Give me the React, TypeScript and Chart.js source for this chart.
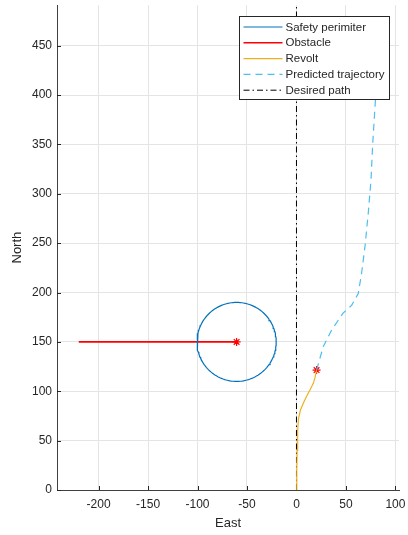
import { useEffect, useRef } from "react";
import { Chart, registerables } from "chart.js";

Chart.register(...registerables);

// Axis limits and tick positions (East / North, metres)
const xLimits = [-242, 103.6];
const yLimits = [0, 491];
const xTicks = [-200, -150, -100, -50, 0, 50, 100];
const yTicks = [0, 50, 100, 150, 200, 250, 300, 350, 400, 450];

// Safety perimeter around the obstacle
const perimeterCenter = [-60.5, 150];
const perimeterRadius = 40;

// Obstacle track
const obstacleEast = [-220, -180, -140, -100, -60.5];
const obstacleNorth = [150, 150, 150, 150, 150];

// Revolt track so far
const revoltEast = [0, 0.3, 0.7, 1.2, 2, 4, 7, 10, 14, 17, 18.8, 20.3];
const revoltNorth = [0, 20, 40, 60, 72, 81, 88, 94.5, 102, 108, 114, 121.5];

// Predicted trajectory
const predictedEast = [20.3, 27, 35.5, 47, 55.7, 62.4, 65.8, 69.2, 72.5, 75.3, 77, 80, 82, 83.5];
const predictedNorth = [121.5, 145, 162, 179, 187, 199, 219.5, 246.5, 280, 314, 350, 398.5, 440, 480];

// Desired path
const desiredEast = [0, 0];
const desiredNorth = [0, 491];

// Current positions (markers)
const markerEast = [-60.5, 20.3];
const markerNorth = [150, 121.5];

const FONT = "'Liberation Sans', Arial, Helvetica, sans-serif";
const INK = "#262626";

const toPoints = (xs: number[], ys: number[]) => xs.map((x, i) => ({ x, y: ys[i] }));

const circlePoints = (c: number[], r: number) => {
  const pts: { x: number; y: number }[] = [];
  for (let i = 0; i <= 144; i++) {
    const a = Math.PI / 2 + (i / 144) * Math.PI * 2;
    pts.push({ x: c[0] + r * Math.cos(a), y: c[1] + r * Math.sin(a) });
  }
  return pts;
};

// Inward tick marks on the left and bottom spines
const innerTicks = {
  id: "innerTicks",
  beforeDatasetsDraw(chart: any) {
    const { ctx, chartArea, scales } = chart;
    ctx.save();
    ctx.strokeStyle = INK;
    ctx.lineWidth = 1;
    ctx.beginPath();
    for (const v of xTicks) {
      const px = Math.round(scales.x.getPixelForValue(v)) + 0.5;
      ctx.moveTo(px, chartArea.bottom);
      ctx.lineTo(px, chartArea.bottom - 4);
    }
    for (const v of yTicks) {
      const py = Math.round(scales.y.getPixelForValue(v)) + 0.5;
      ctx.moveTo(chartArea.left, py);
      ctx.lineTo(chartArea.left + 4, py);
    }
    ctx.stroke();
    ctx.restore();
  },
};

// Boxed legend in the upper right corner of the plot area
const boxLegend = {
  id: "boxLegend",
  afterDatasetsDraw(chart: any) {
    const { ctx, chartArea } = chart;
    const items = chart.data.datasets.filter((d: any) => d.label);
    const w = 150;
    const rowH = 15.8;
    const h = items.length * rowH + 4;
    const x0 = Math.round(chartArea.right - 10 - w) + 0.5;
    const y0 = Math.round(chartArea.top + 11) + 0.5;
    ctx.save();
    ctx.fillStyle = "#ffffff";
    ctx.fillRect(x0, y0, w, h);
    ctx.strokeStyle = INK;
    ctx.lineWidth = 1;
    ctx.setLineDash([]);
    ctx.strokeRect(x0, y0, w, h);
    ctx.font = `11.5px ${FONT}`;
    ctx.textBaseline = "middle";
    ctx.textAlign = "left";
    items.forEach((d: any, i: number) => {
      const cy = y0 + 10.5 + i * rowH;
      ctx.beginPath();
      ctx.strokeStyle = d.borderColor;
      ctx.lineWidth = d.borderWidth;
      ctx.setLineDash(d.borderDash || []);
      ctx.moveTo(x0 + 4, cy);
      ctx.lineTo(x0 + 43, cy);
      ctx.stroke();
      ctx.setLineDash([]);
      ctx.fillStyle = INK;
      ctx.fillText(d.label, x0 + 46, cy + 0.5);
    });
    ctx.restore();
  },
};

const keepTicks = (list: number[]) => (scale: any) => {
  scale.ticks = list.map((v) => ({ value: v }));
};

export default function App() {
  const canvasRef = useRef<HTMLCanvasElement | null>(null);

  useEffect(() => {
    if (!canvasRef.current) return;
    const line = { showLine: true, pointRadius: 0, pointHoverRadius: 0, tension: 0, fill: false };
    const chart = new Chart(canvasRef.current, {
      type: "scatter",
      data: {
        datasets: [
          {
            ...line,
            label: "Safety perimiter",
            data: circlePoints(perimeterCenter, perimeterRadius),
            borderColor: "#0072BD",
            borderWidth: 1.2,
          },
          {
            ...line,
            label: "Obstacle",
            data: toPoints(obstacleEast, obstacleNorth),
            borderColor: "#FF0000",
            borderWidth: 1.6,
          },
          {
            ...line,
            label: "Revolt",
            data: toPoints(revoltEast, revoltNorth),
            borderColor: "#EDB120",
            borderWidth: 1.2,
          },
          {
            ...line,
            label: "Predicted trajectory",
            data: toPoints(predictedEast, predictedNorth),
            borderColor: "#4DBEEE",
            borderWidth: 1.2,
            borderDash: [7, 5],
          },
          {
            ...line,
            label: "Desired path",
            data: toPoints(desiredEast, desiredNorth),
            borderColor: "#000000",
            borderWidth: 1,
            borderDash: [6, 3, 1.5, 3],
          },
          {
            data: toPoints(markerEast, markerNorth),
            showLine: false,
            pointStyle: "star",
            pointRadius: 4,
            pointHoverRadius: 4,
            borderColor: "#FF0000",
            backgroundColor: "#FF0000",
            borderWidth: 1.2,
          },
        ],
      } as any,
      options: {
        responsive: false,
        animation: false,
        devicePixelRatio: 1,
        events: [],
        layout: { padding: { top: 5, right: 9, left: 0, bottom: 0 } },
        plugins: {
          legend: { display: false },
          tooltip: { enabled: false },
        },
        scales: {
          x: {
            type: "linear",
            min: xLimits[0],
            max: xLimits[1],
            afterBuildTicks: keepTicks(xTicks),
            afterFit: (s: any) => {
              s.height = 45;
              s.paddingLeft = 0;
              s.paddingRight = 0;
            },
            grid: { color: "#e4e4e4", lineWidth: 1, drawTicks: false },
            border: { display: true, color: "#404040", width: 1 },
            ticks: {
              padding: 7,
              color: INK,
              font: { family: FONT, size: 12 },
              maxRotation: 0,
              autoSkip: false,
            },
            title: {
              display: true,
              text: "East",
              color: INK,
              font: { family: FONT, size: 13 },
              padding: { top: 0, bottom: 4 },
            },
          },
          y: {
            type: "linear",
            min: yLimits[0],
            max: yLimits[1],
            afterBuildTicks: keepTicks(yTicks),
            afterFit: (s: any) => {
              s.width = 57;
              s.paddingTop = 0;
              s.paddingBottom = 0;
            },
            grid: { color: "#e4e4e4", lineWidth: 1, drawTicks: false },
            border: { display: true, color: "#404040", width: 1 },
            ticks: {
              padding: 5,
              color: INK,
              font: { family: FONT, size: 12 },
              autoSkip: false,
            },
            title: {
              display: true,
              text: "North",
              color: INK,
              font: { family: FONT, size: 13 },
              padding: { top: 10, bottom: 0 },
            },
          },
        },
      } as any,
      plugins: [innerTicks, boxLegend],
    });
    return () => chart.destroy();
  }, []);

  return (
    <div style={{ position: "fixed", left: 0, top: 0, width: 408, height: 535, background: "#ffffff" }}>
      <canvas ref={canvasRef} width={408} height={535} style={{ display: "block" }} />
    </div>
  );
}
